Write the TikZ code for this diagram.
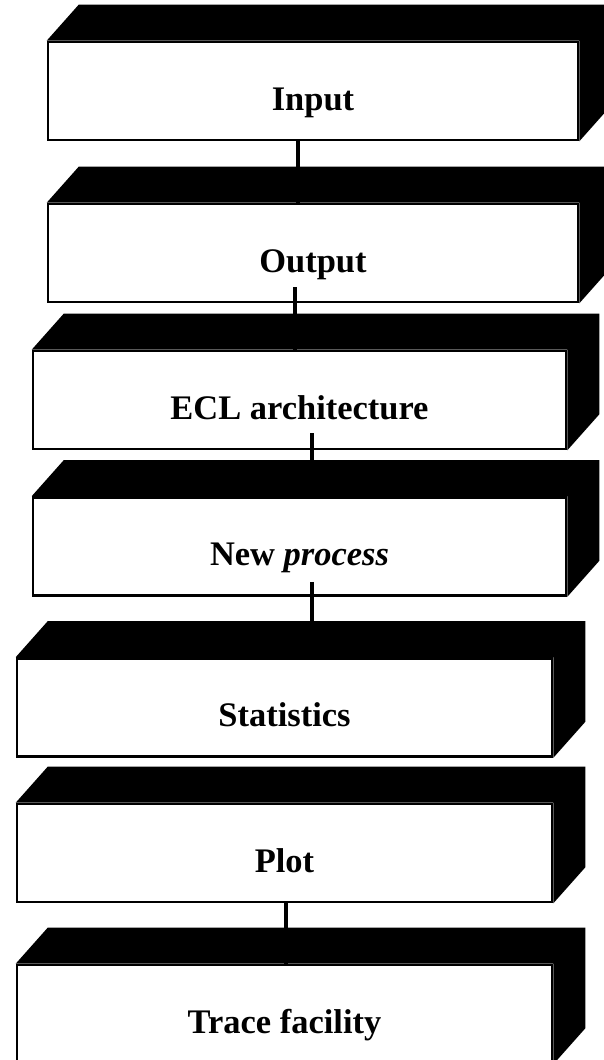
\documentclass[tikz,border=0pt]{standalone}
\usepackage{fontspec}
\setmainfont{Liberation Serif}
\usetikzlibrary{calc}

\tikzstyle{block} = [draw, line width=1.8pt, fill=white, inner sep=0pt,
  minimum height=2.45cm, text height=27.5pt, text depth=0pt,
  font=\fontsize{24.5}{29}\selectfont\bfseries]
\tikzstyle{link} = [line width=3.5pt]

\begin{document}
\begin{tikzpicture}[x=0.025cm, y=-0.025cm]
  \clip (0,0) rectangle (604,1060);
  \node (input) at (313,91) [block, minimum width=13.25cm] {Input};
  \node (output) at (313,253) [block, minimum width=13.25cm] {Output};
  \node (ecl) at (299.5,400) [block, minimum width=13.325cm] {ECL architecture};
  \node (newproc) at (299.5,546.5) [block, minimum width=13.325cm] {New \textit{process}};
  \node (stats) at (284.5,707.5) [block, minimum width=13.375cm] {Statistics};
  \node (plot) at (284.5,853) [block, minimum width=13.375cm] {Plot};
  \node (trace) at (284.5,1014) [block, minimum width=13.375cm] {Trace facility};
  % black top and side faces
  \foreach \b in {input,output,ecl,newproc,stats,plot,trace}
    \fill (\b.north west) -- ++(32,-36) -- ($(\b.north east)+(32,-36)$)
      -- ($(\b.south east)+(32,-36)$) -- (\b.south east) -- (\b.north east) -- cycle;
  \draw [link] ($(input.south)+(-15,0)$) -- ($(output.north)+(-15,0)$);
  \draw [link] ($(output.south)+(-18,-16)$) -- ($(ecl.north)+(-4.5,0)$);
  \draw [link] ($(ecl.south)+(12.5,-17)$) -- ($(newproc.north)+(12.5,0)$);
  \draw [link] ($(newproc.south)+(12.5,-15)$) -- ($(stats.north)+(27.5,0)$);
  \draw [link] ($(plot.south)+(1.5,0)$) -- ($(trace.north)+(1.5,0)$);
\end{tikzpicture}
\end{document}
